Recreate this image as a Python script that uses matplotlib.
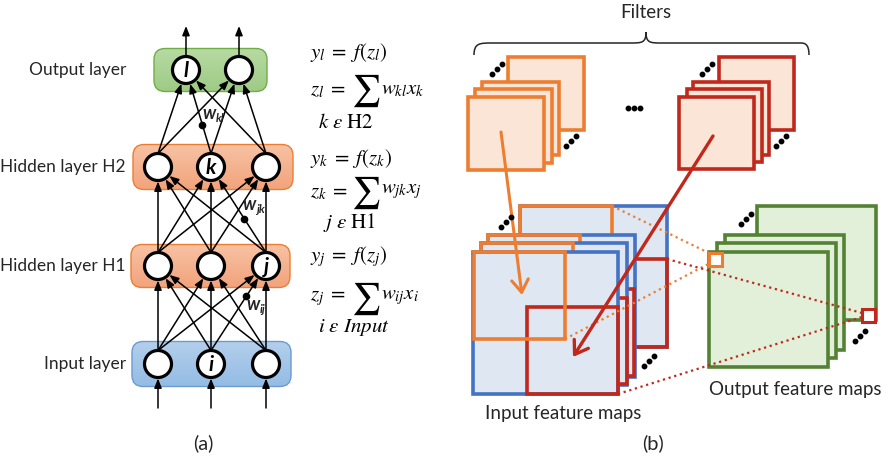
import numpy as np
import matplotlib
matplotlib.use('Agg')
from matplotlib import pyplot as plt
from matplotlib.patches import Rectangle, FancyBboxPatch, Circle, FancyArrowPatch, PathPatch
from matplotlib.path import Path
from matplotlib import colors

plt.rcParams['font.family'] = ['Lato', 'DejaVu Sans']
plt.rcParams['mathtext.fontset'] = 'stix'

# ---- panel (a): fully connected network ----
layer_names = ['Input layer', 'Hidden layer H1', 'Hidden layer H2', 'Output layer']
layer_y = [364, 266, 167, 70]
layer_nodes_x = [[158, 211, 266], [158, 211, 266], [158, 211, 266], [186, 239]]
layer_tags = [[None, 'i', None], [None, None, 'j'], [None, 'k', None], ['l', None]]
layer_box_x = [(132, 291), (131, 290), (133, 293), (154, 267)]
layer_box_h = [45, 43, 45, 43]
layer_edge = ['#6A9BD1', '#ED7D31', '#ED7D31', '#70AD47']
layer_top = ['#B4CFEC', '#F7C2A4', '#F7C2A4', '#B7DAA2']
layer_bottom = ['#94BCE4', '#F2A47C', '#F2A47C', '#9FCB86']
node_r = 13.5

# weight labels: (lower layer, lower node, upper node, dot y, subscript, label xy)
weights = [(2, 1, 0, 125, 'kl', (202, 119)),
           (1, 2, 1, 219, 'jk', (242, 210)),
           (0, 1, 2, 296, 'ij', (246, 310))]

# equations per layer
eq_lines = [
    (r'$y_l\;=\;f(z_l)$', r'$z_l\;=$', r'$w_{kl}x_k$', r'$k\ \varepsilon\ \mathrm{H2}$', 53, 90, 122, 318),
    (r'$y_k\;=\;f(z_k)$', r'$z_k\;=$', r'$w_{jk}x_j$', r'$j\ \varepsilon\ \mathrm{H1}$', 158, 192, 223, 323),
    (r'$y_j\;=\;f(z_j)$', r'$z_j\;=$', r'$w_{ij}x_i$', r'$i\ \varepsilon\ Input$', 257, 298, 328, 318),
]

# ---- panel (b): convolution ----
orange = '#ED7D31'
red = '#C0281C'
blue = '#4472C4'
green = '#548235'
peach = '#FBE5D6'
pale_blue = '#DEE7F2'
pale_green = '#E2F0D9'

# filter stacks (x0, y0, x1, y1), back to front
orange_filters = [(508, 57, 584, 130), (482, 82, 559, 155), (475, 89, 552, 163), (468, 97, 544, 170)]
red_filters = [(719, 57, 794, 130), (693, 82, 769, 155), (687, 89, 762, 162), (679, 97, 754, 169)]

# input maps, back to front: blue map, orange window, red window
in_blue = [(520, 206, 667, 347), (488, 235, 635, 377), (481, 243, 627, 385), (473, 252, 618, 394)]
in_orange = [(520, 206, 612, 293), (488, 235, 580, 322), (481, 243, 573, 330), (474, 252, 565, 339)]
in_red = [(575, 259, 667, 347), (543, 289, 634, 376), (536, 298, 627, 384), (527, 307, 618, 394)]

out_green = [(757, 206, 876, 320), (725, 235, 844, 350), (717, 243, 836, 358), (709, 252, 828, 367)]
out_orange_px = (709, 253, 722, 266)
out_red_px = (862, 309, 875, 322)

dots_diag = [(497, 69), (571, 141), (707, 69), (781, 141), (506, 222), (649, 361), (746, 219), (860, 336)]
dots_flat = [(634, 108)]

fig = plt.figure(figsize=(8.9, 4.62), dpi=100)
ax = fig.add_axes([0, 0, 1, 1])
ax.set_xlim(0, 890)
ax.set_ylim(462, 0)
ax.axis('off')


def arrow(p0, p1, lw=1.1, color='k', style='-|>,head_length=0.55,head_width=0.22', ms=10, z=3):
    a = FancyArrowPatch(p0, p1, arrowstyle=style, mutation_scale=ms, lw=lw,
                        color=color, shrinkA=0, shrinkB=0, zorder=z)
    ax.add_patch(a)


def rect(b, ec, fc='none', lw=2.6, z=2, ls='-'):
    x0, y0, x1, y1 = b
    ax.add_patch(Rectangle((x0, y0), x1 - x0, y1 - y0, ec=ec, fc=fc, lw=lw, zorder=z,
                           joinstyle='miter', ls=ls))


# layer boxes with a vertical gradient
for k in range(4):
    x0, x1 = layer_box_x[k]
    y0 = layer_y[k] - layer_box_h[k] / 2
    y1 = layer_y[k] + layer_box_h[k] / 2
    box = FancyBboxPatch((x0, y0), x1 - x0, y1 - y0, boxstyle='round,pad=0,rounding_size=11',
                         fc='none', ec=layer_edge[k], lw=1.0, zorder=1.5)
    ax.add_patch(box)
    c0 = np.array(colors.to_rgb(layer_top[k]))
    c1 = np.array(colors.to_rgb(layer_bottom[k]))
    t = np.linspace(0, 1, 64)[:, None, None]
    grad = c0 + (c1 - c0) * t
    im = ax.imshow(grad, extent=(x0, x1, y1, y0), aspect='auto', zorder=1, interpolation='bilinear')
    im.set_clip_path(box)
    ax.text(126, layer_y[k], layer_names[k], ha='right', va='center', fontsize=12.5, color='#262626')

# nodes
for k in range(4):
    for n, x in enumerate(layer_nodes_x[k]):
        ax.add_patch(Circle((x, layer_y[k]), node_r, fc='white', ec='black', lw=2.3, zorder=4))
        tag = layer_tags[k][n]
        if tag:
            ax.text(x, layer_y[k] + 1, tag, ha='center', va='center', fontsize=15,
                    fontweight='bold', style='italic', zorder=5)

# connections between consecutive layers
for k in range(3):
    for xa in layer_nodes_x[k]:
        p0 = np.array([xa, layer_y[k] - node_r])
        for xb in layer_nodes_x[k + 1]:
            c = np.array([xb, layer_y[k + 1]])
            d = c - p0
            d = d / np.hypot(*d)
            p1 = c - d * (node_r + 1.0)
            arrow(tuple(p0), tuple(p1))

# inputs and outputs
for x in layer_nodes_x[0]:
    arrow((x, 408), (x, layer_y[0] + node_r + 1))
for x in layer_nodes_x[3]:
    arrow((x, layer_y[3] - node_r), (x, 26))

# weight dots and labels
for k, a, b, ydot, sub, (lx, ly) in weights:
    xa, ya = layer_nodes_x[k][a], layer_y[k] - node_r
    xb, yb = layer_nodes_x[k + 1][b], layer_y[k + 1]
    xdot = xa + (xb - xa) * (ya - ydot) / (ya - yb)
    ax.plot(xdot, ydot, 'o', color='k', ms=4.5, zorder=5)
    ax.text(lx, ly, 'w', fontsize=13, fontweight='bold', style='italic', va='baseline', ha='left',
            color='#262626', zorder=6)
    ax.text(lx + 14, ly + 3, sub, fontsize=8.5, fontweight='bold', style='italic', va='baseline',
            ha='left', color='#262626', zorder=6)

# equations
for ytxt, ztxt, wtxt, subtxt, y1, y2, y3, xs in eq_lines:
    ax.text(310, y1, ytxt, fontsize=15, va='center', ha='left')
    ax.text(310, y2, ztxt, fontsize=15, va='center', ha='left')
    ax.text(366, y2 + 1, r'$\sum$', fontsize=23, va='center', ha='center')
    ax.text(381, y2 - 1, wtxt, fontsize=15, va='center', ha='left')
    ax.text(xs, y3, subtxt, fontsize=15, va='center', ha='left')

ax.text(203, 443, '(a)', ha='center', va='center', fontsize=14.5, color='#262626')

# ---- panel (b) drawing ----
ax.text(646, 13, 'Filters', ha='center', va='center', fontsize=13.5, color='#262626')
brace = Path([(474, 55), (474, 43), (480, 43), (492, 43),
              (630, 43), (642, 43), (646, 43), (646, 32),
              (646, 43), (650, 43), (662, 43), (800, 43),
              (804, 43), (809, 43), (809, 55)],
             [Path.MOVETO, Path.CURVE4, Path.CURVE4, Path.CURVE4,
              Path.LINETO, Path.CURVE4, Path.CURVE4, Path.CURVE4,
              Path.CURVE4, Path.CURVE4, Path.CURVE4, Path.LINETO,
              Path.CURVE4, Path.CURVE4, Path.CURVE4])
ax.add_patch(PathPatch(brace, fc='none', ec='#262626', lw=1.1))

for b in orange_filters:
    rect(b, orange, peach)
for b in red_filters:
    rect(b, red, peach)

for bb, bo, br in zip(in_blue, in_orange, in_red):
    rect(bb, blue, pale_blue, z=2)
    rect(br, red, z=2)
    rect(bo, orange, z=2)

for b in out_green:
    rect(b, green, pale_green, z=2)
rect(out_orange_px, orange, 'white', lw=2.2, z=3)
rect(out_red_px, red, 'white', lw=2.2, z=3)

# receptive-field projection lines
ax.plot([in_orange[0][2], out_orange_px[0]], [in_orange[0][1], out_orange_px[1]],
        ls=':', color=orange, lw=1.6, zorder=2.5)
ax.plot([in_orange[3][2], out_orange_px[0] + 3], [in_orange[3][3], out_orange_px[3] - 4],
        ls=':', color=orange, lw=1.6, zorder=2.5)
ax.plot([in_red[0][2], out_red_px[0]], [in_red[0][1], out_red_px[1] + 4],
        ls=':', color=red, lw=1.6, zorder=2.5)
ax.plot([in_red[3][2], out_red_px[0]], [in_red[3][3], out_red_px[1] + 8],
        ls=':', color=red, lw=1.6, zorder=2.5)

# filters sliding onto the input maps
arrow((501, 132), (522, 295), lw=2.2, color=orange, style='->,head_length=0.45,head_width=0.3', ms=20, z=3)
arrow((713, 136), (573, 357), lw=2.4, color=red, style='->,head_length=0.45,head_width=0.3', ms=20, z=3)

for x, y in dots_diag:
    ax.plot([x - 5, x, x + 5], [y + 5, y, y - 5], 'o', color='k', ms=3.2, zorder=4)
for x, y in dots_flat:
    ax.plot([x - 6, x, x + 6], [y, y, y], 'o', color='k', ms=3.2, zorder=4)

ax.text(563, 414, 'Input feature maps', ha='center', va='center', fontsize=13.5, color='#262626')
ax.text(795, 389, 'Output feature maps', ha='center', va='center', fontsize=13.5, color='#262626')
ax.text(653, 443, '(b)', ha='center', va='center', fontsize=14.5, color='#262626')

fig.savefig('out.png', dpi=100)
